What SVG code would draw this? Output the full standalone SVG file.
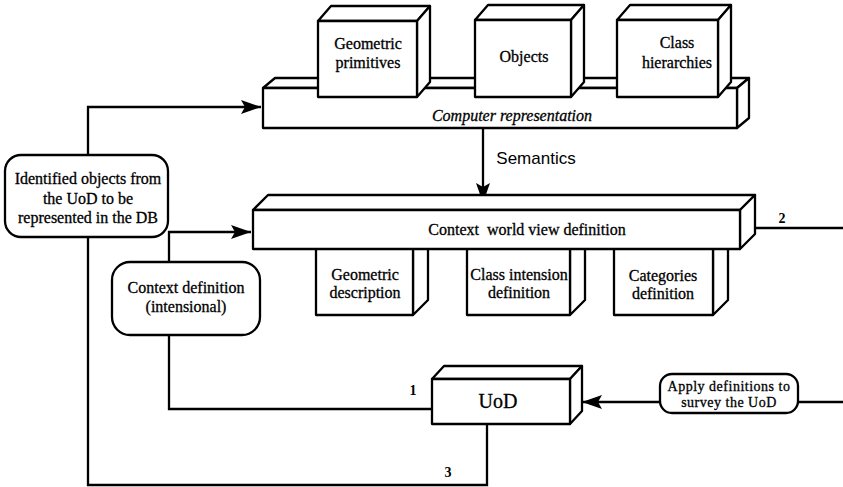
<svg xmlns="http://www.w3.org/2000/svg" width="843" height="487" viewBox="0 0 843 487">
  <style>
    .face { fill: #ffffff; stroke: #000000; stroke-width: 2.3; stroke-linejoin: round; }
    .round { fill: #ffffff; stroke: #000000; stroke-width: 2.3; }
    .wire { fill: none; stroke: #000000; stroke-width: 2.3; }
    .t { font-family: "Liberation Serif", "Times New Roman", serif; font-size: 16px; fill: #000000; stroke: #000000; stroke-width: 0.3; text-anchor: middle; }
    .it { font-style: italic; }
    .big { font-size: 20px; }
    .small { font-size: 14px; letter-spacing: 0.5px; }
    .num { font-family: "Liberation Serif", "Times New Roman", serif; font-size: 14px; font-weight: bold; fill: #000000; text-anchor: middle; }
    .sans { font-family: "Liberation Sans", Arial, sans-serif; font-size: 17px; fill: #000000; text-anchor: middle; }
  </style>
  <defs>
    <marker id="arrow" markerUnits="userSpaceOnUse" markerWidth="22" markerHeight="16" refX="20" refY="7" orient="auto">
      <path d="M0,0 L20,7 L0,14 L4,7 z" fill="#000000"/>
    </marker>
  </defs>

  <!-- connectors -->
  <g id="connectors">
    <path class="wire" d="M487,424 V485 H88 V107 H261" marker-end="url(#arrow)"/>
    <path class="wire" d="M432,409 H169 V232 H251" marker-end="url(#arrow)"/>
    <path class="wire" d="M483,128 V203" marker-end="url(#arrow)"/>
    <path class="wire" d="M755,228 H843"/>
    <path class="wire" d="M843,402 H582" marker-end="url(#arrow)"/>
  </g>

  <!-- computer representation bar -->
  <g id="computer-representation">
    <polygon class="face" points="263,88 275,78 749,78 737,88"/>
    <polygon class="face" points="737,88 749,78 749,118 737,128"/>
    <rect class="face" x="263" y="88" width="474" height="40"/>
    <text class="t it" x="512" y="121">Computer representation</text>
  </g>

  <g id="geometric-primitives">
    <polygon class="face" points="318,21 331,6 430,6 417,21"/>
    <polygon class="face" points="417,21 430,6 430,82 417,97"/>
    <rect class="face" x="318" y="21" width="99" height="76"/>
    <text class="t" x="368" y="49">Geometric</text>
    <text class="t" x="368" y="68">primitives</text>
  </g>

  <g id="objects">
    <polygon class="face" points="475,20 488,5 584,5 571,20"/>
    <polygon class="face" points="571,20 584,5 584,82 571,97"/>
    <rect class="face" x="475" y="20" width="96" height="77"/>
    <text class="t" x="524" y="62">Objects</text>
  </g>

  <g id="class-hierarchies">
    <polygon class="face" points="617,20 630,5 731,5 718,20"/>
    <polygon class="face" points="718,20 731,5 731,82 718,97"/>
    <rect class="face" x="617" y="20" width="101" height="77"/>
    <text class="t" x="677" y="48">Class</text>
    <text class="t" x="677" y="68">hierarchies</text>
  </g>

  <text class="sans" x="536" y="164">Semantics</text>

  <!-- boxes hanging under the context bar -->
  <g id="geometric-description">
    <polygon class="face" points="413,240 428,225 428,300 413,315"/>
    <rect class="face" x="316" y="240" width="97" height="75"/>
    <text class="t" x="365" y="280">Geometric</text>
    <text class="t" x="365" y="298">description</text>
  </g>

  <g id="class-intension-definition">
    <polygon class="face" points="570,240 585,225 585,300 570,315"/>
    <rect class="face" x="467" y="240" width="103" height="75"/>
    <text class="t" x="519" y="280">Class intension</text>
    <text class="t" x="519" y="298">definition</text>
  </g>

  <g id="categories-definition">
    <polygon class="face" points="713,240 728,225 728,300 713,315"/>
    <rect class="face" x="614" y="240" width="99" height="75"/>
    <text class="t" x="663" y="281">Categories</text>
    <text class="t" x="663" y="299">definition</text>
  </g>

  <g id="context-world-view">
    <polygon class="face" points="253,210 268,195 755,195 740,210"/>
    <polygon class="face" points="740,210 755,195 755,234 740,249"/>
    <rect class="face" x="253" y="210" width="487" height="39"/>
    <text class="t" x="527" y="235" xml:space="preserve">Context  world view definition</text>
  </g>

  <text class="num" x="782" y="223">2</text>

  <g id="identified-objects">
    <rect class="round" x="5" y="155" width="163" height="82" rx="16" ry="16"/>
    <text class="t" x="88" y="184">Identified objects from</text>
    <text class="t" x="88" y="204">the UoD to be</text>
    <text class="t" x="88" y="223">represented in the DB</text>
  </g>

  <g id="context-definition">
    <rect class="round" x="112" y="262" width="148" height="73" rx="18" ry="18"/>
    <text class="t" x="186" y="293">Context definition</text>
    <text class="t" x="186" y="312">(intensional)</text>
  </g>

  <g id="uod">
    <polygon class="face" points="432,379 444,366 582,366 570,379"/>
    <polygon class="face" points="570,379 582,366 582,411 570,424"/>
    <rect class="face" x="432" y="379" width="138" height="45"/>
    <text class="t big" x="498" y="408">UoD</text>
  </g>

  <text class="num" x="413" y="395">1</text>
  <text class="num" x="448" y="477">3</text>

  <g id="apply-definitions">
    <rect class="round" x="660" y="374" width="138" height="39" rx="12" ry="12"/>
    <text class="t small" x="729" y="391">Apply definitions to</text>
    <text class="t small" x="729" y="407">survey the UoD</text>
  </g>
</svg>
